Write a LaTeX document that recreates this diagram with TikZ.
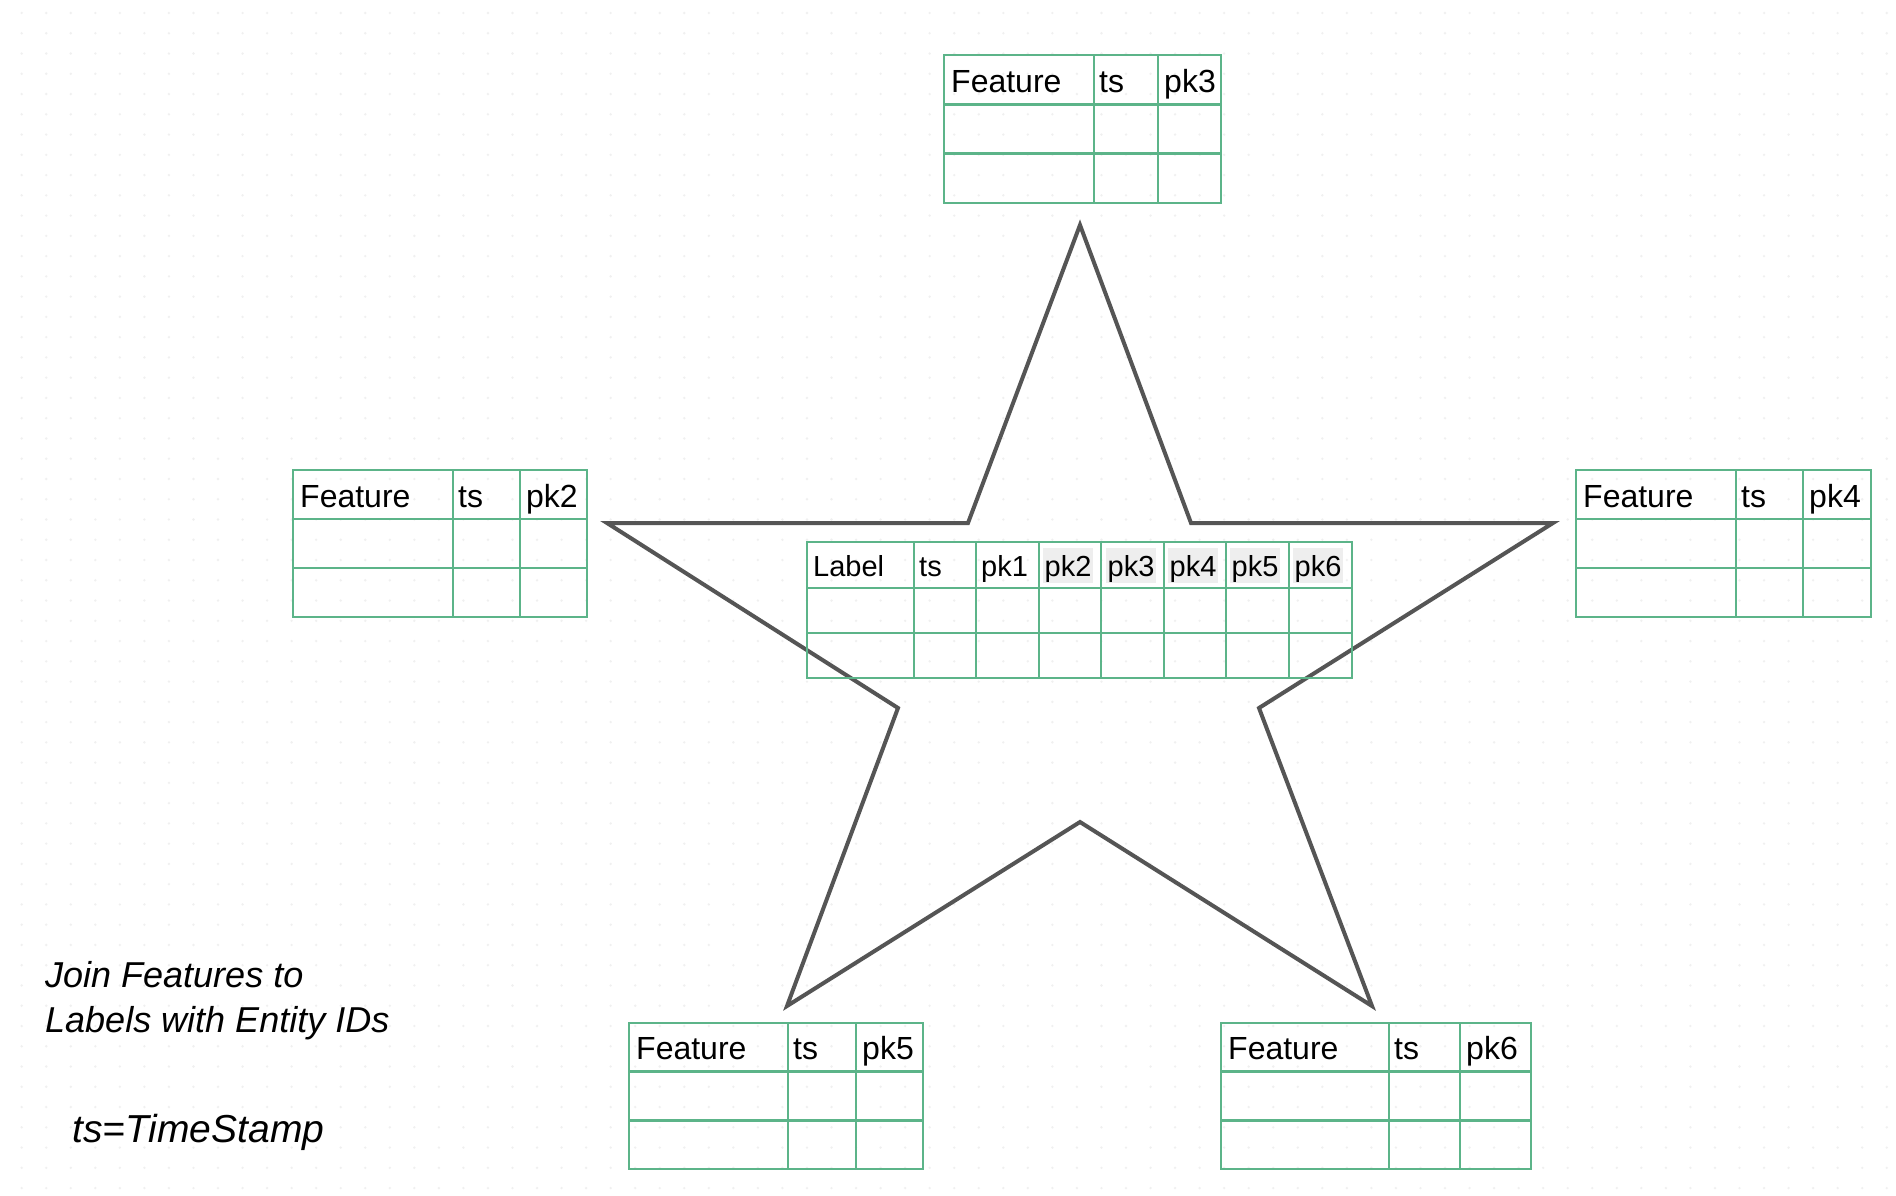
\documentclass[tikz,border=0pt]{standalone}
\usepackage{fontspec}
\setmainfont{Liberation Sans}
\definecolor{tblgreen}{HTML}{5CB489}
\definecolor{stargray}{HTML}{555555}
\definecolor{hlgray}{HTML}{EEEEEE}
\definecolor{dotgray}{HTML}{F0F0F0}
\tikzset{
  tbl/.style={draw=tblgreen, line width=2.6pt},
  ftxt/.style={anchor=base west, inner sep=0pt, font=\fontsize{32}{38}\selectfont},
  ltxt/.style={anchor=base west, inner sep=0pt, font=\fontsize{29}{34}\selectfont},
  hltxt/.style={ltxt, fill=hlgray, inner xsep=1.5pt, text height=28pt, text depth=7pt},
  note/.style={anchor=base west, inner sep=0pt, font=\itshape\fontsize{36}{44}\selectfont},
  starline/.style={draw=stargray, line width=4pt, line join=miter},
  griddot/.style={fill=dotgray}
}
% feature table: name, x0, x1, x2, x3, y0, row height, pk text
\newcommand{\ftab}[8]{%
  \draw[tbl] (#2,#6) rectangle (#5,{#6+3*#7});
  \draw[tbl] (#2,{#6+#7}) -- (#5,{#6+#7});
  \draw[tbl] (#2,{#6+2*#7}) -- (#5,{#6+2*#7});
  \draw[tbl] (#3,#6) -- (#3,{#6+3*#7});
  \draw[tbl] (#4,#6) -- (#4,{#6+3*#7});
  \node[ftxt] (#1-feature) at ({#2+7},{#6+#7-12}) {Feature};
  \node[ftxt] (#1-ts) at ({#3+5},{#6+#7-12}) {ts};
  \node[ftxt] (#1-pk) at ({#4+6},{#6+#7-12}) {#8};
}
\begin{document}
\begin{tikzpicture}[x=1pt,y=-1pt]
\useasboundingbox (0,0) rectangle (1896,1196);
\fill[white] (0,0) rectangle (1896,1196);
% background grid dots
\foreach \i in {0,...,76} {
  \foreach \j in {0,...,58} {
    \fill[griddot] ({21.7+24.54*\i},{13+20.26*\j}) circle (1.3);
  }
}
% star
\draw[starline] (1080,225) -- (1191,523) -- (1553,523) -- (1259,708)
  -- (1372,1006) -- (1080,822) -- (787,1006) -- (898,708)
  -- (607,523) -- (968,523) -- cycle;
% feature tables
\ftab{t3}{944}{1094}{1158}{1221}{55}{49.3}{pk3}
\ftab{t2}{293}{453}{520}{587}{470}{49}{pk2}
\ftab{t4}{1576}{1736}{1803}{1871}{470}{49}{pk4}
\ftab{t5}{629}{788}{856}{923}{1023}{48.7}{pk5}
\ftab{t6}{1221}{1389}{1460}{1531}{1023}{48.7}{pk6}
% label table
\draw[tbl] (807,542) rectangle (1352,678);
\draw[tbl] (807,588) -- (1352,588);
\draw[tbl] (807,633) -- (1352,633);
\foreach \cx in {914,976,1039,1101,1164,1226,1289} {
  \draw[tbl] (\cx,542) -- (\cx,678);
}
\node[ltxt] (lab) at (813,576) {Label};
\node[ltxt] (lts) at (919,576) {ts};
\node[ltxt] (lpk1) at (981,576) {pk1};
\node[hltxt] (lpk2) at (1043,576) {pk2};
\node[hltxt] (lpk3) at (1106,576) {pk3};
\node[hltxt] (lpk4) at (1168,576) {pk4};
\node[hltxt] (lpk5) at (1230,576) {pk5};
\node[hltxt] (lpk6) at (1293,576) {pk6};
% notes
\node[note] (note1) at (45,987) {Join Features to};
\node[note] (note2) at (45,1032) {Labels with Entity IDs};
\node[note, font=\itshape\fontsize{39}{46}\selectfont] (note3) at (72,1142) {ts=TimeStamp};
\end{tikzpicture}
\end{document}
